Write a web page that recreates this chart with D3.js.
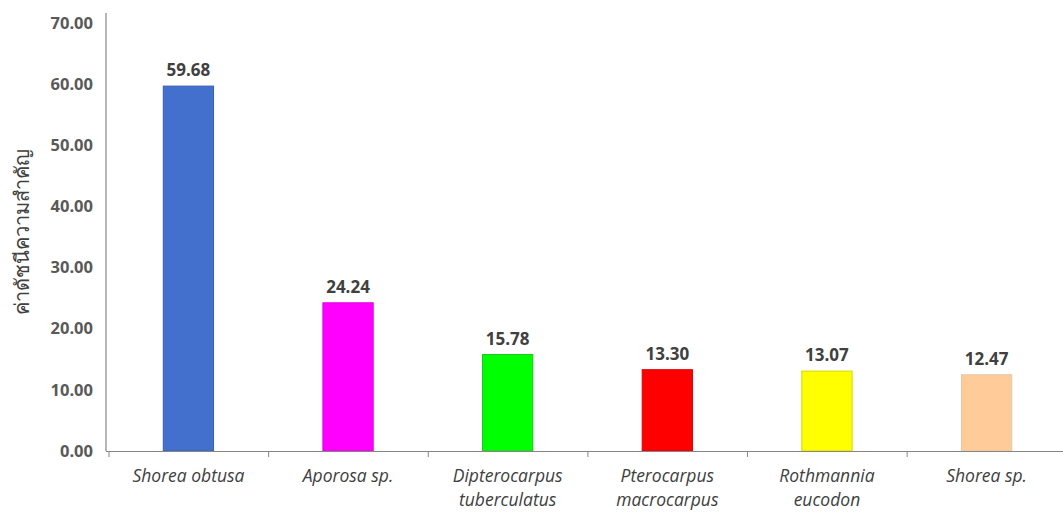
<!DOCTYPE html>
<html>
<head>
<meta charset="utf-8">
<script src="https://cdn.jsdelivr.net/npm/d3@7"></script>
<style>
  html, body { margin: 0; padding: 0; background: #fff; }
  svg { display: block; }
</style>
</head>
<body>
<svg id="chart" width="1063" height="513"></svg>
<script>
// Importance value index of the leading tree species
const species = [
  ["Shorea obtusa"],
  ["Aporosa sp."],
  ["Dipterocarpus", "tuberculatus"],
  ["Pterocarpus", "macrocarpus"],
  ["Rothmannia", "eucodon"],
  ["Shorea sp."]
];
const ivi = [59.68, 24.24, 15.78, 13.30, 13.07, 12.47];
const barColors = ["#4270CC", "#FF00FF", "#00FF00", "#FF0000", "#FFFF00", "#FFCC99"];
const barStrokes = ["#3A5FAE", "#E000E0", "#22C322", "#DD0000", "#D8D800", "#E0C8A8"];
const yTicks = [0, 10, 20, 30, 40, 50, 60, 70];
const yTitle = "ค่าดัชนีความสำคัญ";

const svg = d3.select("#chart");
const plotLeft = 109, plotRight = 1066, plotTop = 13, plotBottom = 451;

const x = d3.scaleBand()
  .domain(d3.range(species.length))
  .range([plotLeft, plotRight])
  .paddingInner(0.685)
  .paddingOuter(0.34);

const y = d3.scaleLinear().domain([0, 70]).range([plotBottom, plotBottom - 428]);

const font = "'Open Sans', 'Noto Sans', 'Liberation Sans', sans-serif";
const axisColor = "#868686";

// bars
svg.append("g").selectAll("rect")
  .data(ivi)
  .join("rect")
  .attr("x", (d, i) => x(i))
  .attr("y", d => y(d))
  .attr("width", x.bandwidth())
  .attr("height", d => y(0) - y(d))
  .attr("fill", (d, i) => barColors[i])
  .attr("stroke", (d, i) => barStrokes[i])
  .attr("stroke-width", 1);

// value labels
svg.append("g").selectAll("text")
  .data(ivi)
  .join("text")
  .attr("x", (d, i) => x(i) + x.bandwidth() / 2)
  .attr("y", d => y(d) - 10)
  .attr("text-anchor", "middle")
  .attr("font-family", font)
  .attr("font-weight", "bold")
  .attr("font-size", 17)
  .attr("fill", "#404040")
  .text(d => d.toFixed(2));

// y axis
const yAxis = svg.append("g")
  .attr("transform", `translate(${plotLeft - 3},0)`)
  .call(d3.axisLeft(y).tickValues(yTicks).tickSize(0).tickPadding(13).tickFormat(d => d.toFixed(2)));
yAxis.select(".domain").remove();
yAxis.selectAll("text")
  .attr("font-family", font)
  .attr("font-weight", "bold")
  .attr("font-size", 16.5)
  .attr("fill", "#595959");
svg.append("line")
  .attr("x1", plotLeft - 3).attr("x2", plotLeft - 3)
  .attr("y1", plotTop).attr("y2", plotBottom)
  .attr("stroke", axisColor).attr("stroke-width", 1.2);

// x axis baseline and category separators
const xAxisG = svg.append("g");
xAxisG.append("line")
  .attr("x1", plotLeft - 3).attr("x2", 1063)
  .attr("y1", plotBottom + 0.5).attr("y2", plotBottom + 0.5)
  .attr("stroke", axisColor).attr("stroke-width", 1.2);
const step = x.step();
xAxisG.selectAll("line.sep")
  .data(d3.range(species.length))
  .join("line")
  .attr("class", "sep")
  .attr("x1", i => x(i) - x.paddingOuter() * step)
  .attr("x2", i => x(i) - x.paddingOuter() * step)
  .attr("y1", plotBottom + 1)
  .attr("y2", plotBottom + 6)
  .attr("stroke", axisColor).attr("stroke-width", 1);

// category labels
const catLabels = svg.append("g").selectAll("text")
  .data(species)
  .join("text")
  .attr("x", (d, i) => x(i) + x.bandwidth() / 2)
  .attr("y", 482)
  .attr("text-anchor", "middle")
  .attr("font-family", font)
  .attr("font-style", "italic")
  .attr("font-size", 17.5)
  .attr("fill", "#404040");
catLabels.each(function(lines) {
  const t = d3.select(this);
  lines.forEach((ln, k) => {
    t.append("tspan")
      .attr("x", t.attr("x"))
      .attr("dy", k === 0 ? 0 : 24)
      .text(ln);
  });
});

// y axis title
svg.append("text")
  .attr("transform", `translate(29,${232}) rotate(-90)`)
  .attr("text-anchor", "middle")
  .attr("font-family", "'Noto Sans', 'DejaVu Sans', sans-serif")
  .attr("font-size", 20)
  .attr("fill", "#404040")
  .text(yTitle);
</script>
</body>
</html>
